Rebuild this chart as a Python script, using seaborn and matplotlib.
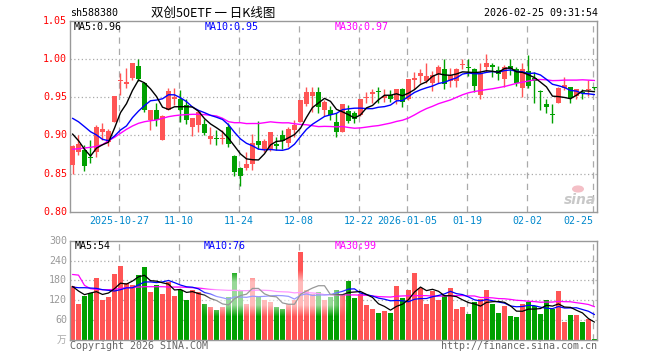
import numpy as np
import pandas as pd
import matplotlib
matplotlib.use("Agg")
import matplotlib.pyplot as plt
import seaborn as sns

# ---------------- data ----------------
opens = [0.861,0.879,0.881,0.872,0.879,0.904,0.892,0.918,0.972,0.967,
         0.976,0.991,0.969,0.920,0.9335,0.894,0.934,0.948,0.948,0.940,
         0.911,0.914,0.915,0.895,0.8955,0.895,0.911,0.873,0.858,0.858,
         0.862,0.893,0.882,0.881,0.889,0.9007,0.890,0.907,0.918,0.941,
         0.952,0.9575,0.934,0.9335,0.918,0.905,0.932,0.929,0.927,0.9488,
         0.954,0.9572,0.949,0.953,0.946,0.9606,0.948,0.9728,0.978,0.972,
         0.9685,0.9807,0.9869,0.971,0.971,0.993,0.9885,0.9869,0.953,0.9895,
         0.9925,0.986,0.974,0.9912,0.987,0.962,0.985,0.975,0.9575,0.9413,
         0.927,0.943,0.962,0.9633,0.952,0.9575,0.9600,0.9622]
highs = [0.887,0.901,0.8875,0.894,0.914,0.916,0.909,0.952,0.982,0.988,
         0.995,1.000,0.970,0.9335,0.943,0.927,0.962,0.962,0.960,0.9475,
         0.923,0.933,0.921,0.911,0.907,0.907,0.917,0.8744,0.859,0.879,
         0.902,0.919,0.896,0.905,0.8976,0.907,0.911,0.920,0.9466,0.964,
         0.963,0.963,0.9466,0.9387,0.930,0.9413,0.940,0.9325,0.948,0.9575,
         0.9606,0.963,0.9606,0.960,0.9606,0.962,0.9738,0.9837,0.9869,0.995,
         0.984,0.9925,1.000,0.988,0.988,1.001,1.000,0.988,0.9955,1.007,
         0.9948,0.991,0.9925,1.000,0.9895,0.9948,1.005,0.9837,0.9597,0.9475,
         0.9413,0.9637,0.977,0.9633,0.9606,0.9606,0.9728,0.963]
lows = [0.850,0.874,0.853,0.864,0.872,0.894,0.886,0.918,0.953,0.962,
        0.973,0.971,0.931,0.907,0.912,0.894,0.934,0.940,0.918,0.915,
        0.899,0.905,0.900,0.889,0.8875,0.889,0.885,0.847,0.834,0.855,
        0.855,0.882,0.879,0.880,0.881,0.882,0.885,0.8976,0.918,0.939,
        0.931,0.929,0.925,0.920,0.8976,0.904,0.917,0.916,0.926,0.9423,
        0.9423,0.9423,0.9444,0.9444,0.941,0.938,0.947,0.9606,0.9685,0.9685,
        0.958,0.9693,0.9606,0.964,0.964,0.987,0.978,0.9575,0.948,0.9837,
        0.9772,0.973,0.964,0.9794,0.965,0.951,0.962,0.943,0.9335,0.930,
        0.916,0.942,0.960,0.943,0.9475,0.9475,0.952,0.960]
closes = [0.886,0.889,0.860,0.871,0.911,0.908,0.906,0.952,0.973,0.970,
          0.995,0.974,0.9335,0.9335,0.920,0.925,0.959,0.951,0.934,0.920,
          0.923,0.931,0.903,0.899,0.895,0.8955,0.889,0.8525,0.847,0.8626,
          0.890,0.8875,0.893,0.905,0.886,0.893,0.908,0.914,0.9466,0.9575,
          0.9575,0.938,0.944,0.927,0.905,0.9413,0.9194,0.922,0.9475,0.951,
          0.957,0.9567,0.952,0.9475,0.9606,0.944,0.9738,0.975,0.9816,0.978,
          0.980,0.9903,0.9676,0.979,0.9869,0.9938,0.988,0.965,0.9825,0.9955,
          0.9905,0.981,0.990,0.9869,0.9693,0.9869,0.965,0.972,0.957,0.9378,
          0.9265,0.962,0.9663,0.9488,0.9606,0.9554,0.9606,0.9618]
volumes = [162,108,132,142,186,120,130,198,225,172,
           165,195,220,144,165,140,175,132,152,120,
           152,145,110,100,90,100,130,202,150,110,
           187,130,120,115,100,95,110,120,265,150,
           140,145,120,130,150,140,178,127,138,105,
           95,82,87,82,162,128,150,202,158,108,
           148,120,135,158,94,100,78,115,125,150,
           110,82,102,72,70,108,115,102,80,120,
           95,148,55,75,76,55,62,2]

ma5_head = [0.902, 0.8932, 0.882, 0.873]
ma10_head = [0.9226, 0.918, 0.9116, 0.905, 0.9007, 0.895, 0.8932, 0.8993, 0.9072]
ma30_head = [0.8819, 0.8827, 0.8836, 0.8845, 0.8858, 0.8880, 0.8932, 0.8976, 0.9029, 0.9081,
             0.9125, 0.9160, 0.9181, 0.9194, 0.9203, 0.9226, 0.9247, 0.926, 0.9269, 0.9274,
             0.9278, 0.9278, 0.9274, 0.9265, 0.9256, 0.9226, 0.9181, 0.9168, 0.9168]
vma5_head = [162, 148, 137, 142]
vma10_head = [160, 158, 158, 157, 156, 152, 150, 148, 152]
vma30_head = [198, 196, 165, 155, 153, 152, 152, 153, 156, 158,
              159, 160, 161, 161, 161, 161, 160, 160, 160, 159,
              158, 157, 155, 153, 152, 151, 150, 150, 149]

date_tick_idx = [8, 18, 28, 38, 48, 56, 66, 76, 87]
date_tick_labels = ["2025-10-27", "11-10", "11-24", "12-08", "12-22",
                    "2026-01-05", "01-19", "02-02", "02-25"]
price_ticks = [0.80, 0.85, 0.90, 0.95, 1.00, 1.05]
price_tick_labels = ["0.80", "0.85", "0.90", "0.95", "1.00", "1.05"]
vol_ticks = [60, 120, 180, 240, 300]
vol_tick_labels = ["60", "120", "180", "240", "300"]

title_code = "sh588380"
title_text = "双创50ETF 一 日K线图"
title_time = "2026-02-25 09:31:54"
legend_main = ["MA5:0.96", "MA10:0.95", "MA30:0.97"]
legend_vol = ["MA5:54", "MA10:76", "MA30:99"]

# ---------------- derived ----------------
def moving(values, n, head):
    s = pd.Series(values, dtype=float).rolling(n).mean()
    s.iloc[:len(head)] = head
    return s.values

n = len(closes)
idx = np.arange(n)
o = np.array(opens); c = np.array(closes)
h = np.array(highs); l = np.array(lows)
v = np.array(volumes, dtype=float)
up = c >= o
RED, GREEN = "#FF5555", "#00A000"
cols = np.where(up, RED, GREEN)

ma5 = moving(closes, 5, ma5_head)
ma10 = moving(closes, 10, ma10_head)
ma30 = moving(closes, 30, ma30_head)
vma5 = moving(volumes, 5, vma5_head)
vma10 = moving(volumes, 10, vma10_head)
vma30 = moving(volumes, 30, vma30_head)

# ---------------- figure ----------------
sns.set_style("white")
plt.rcParams['font.family'] = ['DejaVu Sans Mono', 'Noto Sans CJK SC']
W, H = 660, 360
fig = plt.figure(figsize=(6.6, 3.6), dpi=100)
fig.patch.set_facecolor("white")

def fx(x): return x / W
def fy(y): return 1 - y / H

ax = fig.add_axes([fx(70), fy(211.7), 527 / W, (211.7 - 21.2) / H])
axv = fig.add_axes([fx(70), fy(340), 527 / W, (340 - 240.7) / H])

XL = (-0.4167, 87.42)
GRID = "#AAAAAA"
for a in (ax, axv):
    a.set_xlim(*XL)
    for s in a.spines.values():
        s.set_color("#999999"); s.set_linewidth(1.0)
    a.set_xticks([]); a.set_yticks([])
    a.tick_params(length=0)
    for t in date_tick_idx:
        a.axvline(t - 0.25, color=GRID, lw=0.9, ls=(0, (5, 4)), zorder=0)

ax.set_ylim(0.80, 1.05)
axv.set_ylim(0, 300)
for p in price_ticks[1:-1]:
    ax.axhline(p, color=GRID, lw=0.9, ls=(0, (1, 2)), zorder=0)
for p in vol_ticks[:-1]:
    axv.axhline(p, color=GRID, lw=0.9, ls=(0, (1, 2)), zorder=0)

# candles
ax.vlines(idx, l, h, colors=cols, lw=1.0, zorder=2)
body_low = np.minimum(o, c)
body_h = np.maximum(np.abs(c - o), 0.0013)
ax.bar(idx, body_h, bottom=body_low, width=0.8, color=cols, linewidth=0, zorder=3)

# MA lines
df = pd.DataFrame({"i": idx, "ma5": ma5, "ma10": ma10, "ma30": ma30,
                   "v5": vma5, "v10": vma10, "v30": vma30})
sns.lineplot(data=df, x="i", y="ma30", ax=ax, color="#FF00FF", lw=1.0, zorder=4)
sns.lineplot(data=df, x="i", y="ma10", ax=ax, color="#0000FF", lw=1.0, zorder=5)
sns.lineplot(data=df, x="i", y="ma5", ax=ax, color="#000000", lw=1.0, zorder=6)

# volume
axv.bar(idx, v, width=0.83, color=cols, linewidth=0, zorder=2)
sns.lineplot(data=df, x="i", y="v30", ax=axv, color="#FF00FF", lw=0.9, zorder=4)
sns.lineplot(data=df, x="i", y="v10", ax=axv, color="#0000FF", lw=0.9, zorder=5)
sns.lineplot(data=df, x="i", y="v5", ax=axv, color="#000000", lw=0.9, zorder=6)

# washed-out band in the volume panel
ny, nx = 60, 200
yy = np.linspace(0, 1, ny)[:, None]
xx = np.linspace(0, 1, nx)[None, :]
def soft(t, e):
    return np.clip(np.minimum(t, 1 - t) / e, 0, 1)
alpha = 0.6 * soft(xx, 0.12) * soft(yy, 0.25)
img = np.ones((ny, nx, 4)); img[..., 3] = alpha
x0 = (198 - 72.5) / 6; x1 = (350 - 72.5) / 6
axv.imshow(img, extent=(x0, x1, 70, 210), aspect="auto", zorder=7, origin="lower")
axv.set_xlim(*XL); axv.set_ylim(0, 300)

for a in (ax, axv):
    a.set_xlabel(""); a.set_ylabel("")

# ---------------- text ----------------
MONO = 7.2
fig.text(fx(70), fy(13), title_code, fontsize=MONO, va="center", ha="left", color="#000000")
fig.text(fx(151), fy(13), title_text, fontsize=9, va="center", ha="left",
         family=["Noto Sans CJK SC", "DejaVu Sans"], color="#000000")
fig.text(fx(598), fy(13), title_time, fontsize=MONO, va="center", ha="right", color="#000000")

lc = ["#000000", "#0000FF", "#FF00FF"]
for txt, xpx, col in zip(legend_main, [74, 205, 335], lc):
    fig.text(fx(xpx), fy(26.5), txt, fontsize=MONO, va="center", ha="left", color=col)
for txt, xpx, col in zip(legend_vol, [75, 204, 335], lc):
    fig.text(fx(xpx), fy(246), txt, fontsize=MONO, va="center", ha="left", color=col)

for p, lab in zip(price_ticks, price_tick_labels):
    ypx = 211.7 - (p - 0.80) / 0.25 * 190.5
    fig.text(fx(67), fy(ypx), lab, fontsize=MONO, va="center", ha="right", color="#FF0000")
for p, lab in zip(vol_ticks, vol_tick_labels):
    ypx = 340 - p / 300 * 99.3
    fig.text(fx(67), fy(ypx), lab, fontsize=MONO, va="center", ha="right", color="#999999")
fig.text(fx(66), fy(340), "万", fontsize=7, va="center", ha="right", color="#AAAAAA",
         family=["Noto Sans CJK SC", "DejaVu Sans"])

for t, lab in zip(date_tick_idx, date_tick_labels):
    xpx = 72.5 + 6 * t - 1.5
    ha = "center"
    if t == date_tick_idx[-1]:
        ha = "right"; xpx += 0.5
    fig.text(fx(xpx), fy(221), lab, fontsize=MONO, va="center", ha=ha, color="#0088CC")

fig.text(fx(70), fy(346), "Copyright 2026 SINA.COM", fontsize=MONO, va="center", ha="left", color="#666666")
fig.text(fx(597), fy(346), "http://finance.sina.com.cn", fontsize=MONO, va="center", ha="right", color="#666666")

# faint sina watermark
fig.text(fx(596), fy(200), "sina", fontsize=10, style="italic", weight="bold",
         va="center", ha="right", color="#C8C8C8", family="DejaVu Sans")
fig.patches.append(matplotlib.patches.Circle((fx(578), fy(189)), 0.008, transform=fig.transFigure,
                                             color="#F4BFC6", zorder=1))

fig.savefig("out.png", dpi=100, facecolor="white")
